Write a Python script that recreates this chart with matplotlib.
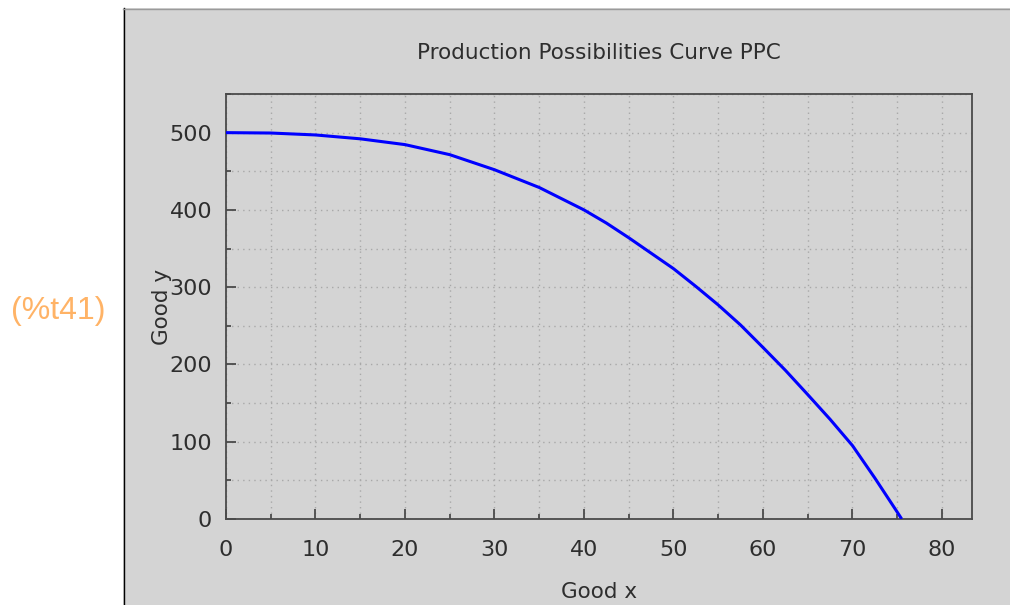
import numpy as np
import matplotlib
matplotlib.use("Agg")
import matplotlib.pyplot as plt
from matplotlib.patches import Rectangle
from matplotlib.ticker import MultipleLocator

# production possibilities frontier (good x, good y)
good_x = [0, 5, 10, 15, 20, 25, 30, 35, 40, 42.5, 45, 47.5, 50, 52.5, 55,
          57.5, 60, 62.5, 65, 67.5, 70, 72.5, 75, 75.5]
good_y = [500, 499.5, 497, 492, 484.5, 471.5, 452, 429, 400, 383, 364, 344, 324, 301, 277,
          251, 222, 192.5, 161, 129, 95, 53, 9, 0]

x_ticks = [0, 10, 20, 30, 40, 50, 60, 70, 80]
y_ticks = [0, 100, 200, 300, 400, 500]

panel_gray = "#d4d4d4"
text_dark = "#2e2e2e"
label_orange = "#ffb366"

plt.rcParams["font.family"] = ["DejaVu Sans"]

W, H = 1010, 605
fig = plt.figure(figsize=(W / 100, H / 100), dpi=100)
fig.patch.set_facecolor("white")

# gray plot panel with its frame, kept behind the axes
fig.patches.append(Rectangle((123 / W, 0), 1 - 123 / W, 1 - 8 / H,
                             transform=fig.transFigure, facecolor=panel_gray,
                             edgecolor="none", zorder=-2))
fig.add_artist(plt.Line2D([123.5 / W, 123.5 / W], [0, 1 - 8 / H],
                          transform=fig.transFigure, color="black", lw=1, zorder=-1))
fig.add_artist(plt.Line2D([123 / W, 1], [1 - 8.5 / H, 1 - 8.5 / H],
                          transform=fig.transFigure, color="#9a9a9a", lw=1, zorder=-1))

# output labels in the margin
fig.text(58 / W, 1 - 311 / H, "(%t41)", color=label_orange, fontsize=23,
         family=["Liberation Sans"], ha="center", va="center")
fig.text(58 / W, 1 + 16 / H, "(%o40)", color=label_orange, fontsize=23,
         family=["Liberation Sans"], ha="center", va="center")

ax = fig.add_axes([226 / W, 1 - 519 / H, (971.5 - 226) / W, (519 - 94) / H])
ax.set_facecolor(panel_gray)

ax.plot(good_x, good_y, color="#0000ff", lw=2.2, solid_capstyle="butt",
        solid_joinstyle="round", zorder=3)

ax.set_xlim(0, 83.3)
ax.set_ylim(0, 550)
ax.set_xticks(x_ticks)
ax.set_yticks(y_ticks)
ax.xaxis.set_minor_locator(MultipleLocator(5))
ax.yaxis.set_minor_locator(MultipleLocator(50))

ax.grid(True, which="both", color="#a8a8a8", linestyle=(0, (1, 3)), lw=1)
ax.set_axisbelow(True)

for side in ax.spines.values():
    side.set_color("#4a4a4a")
    side.set_linewidth(1.3)

ax.tick_params(which="both", direction="in", top=False, right=False,
               color="#4a4a4a", width=1.3)
ax.tick_params(which="major", length=7)
ax.tick_params(which="minor", length=3.5)
ax.tick_params(axis="x", which="major", pad=15, labelsize=16, labelcolor=text_dark)
ax.tick_params(axis="y", which="major", pad=10, labelsize=16, labelcolor=text_dark)

ax.set_title("Production Possibilities Curve PPC", fontsize=15.5, color=text_dark, pad=25)
ax.set_xlabel("Good x", fontsize=15.5, color=text_dark, labelpad=16)
ax.set_ylabel("Good y", fontsize=15.5, color=text_dark, labelpad=-2)

fig.savefig("out.png", dpi=100)
